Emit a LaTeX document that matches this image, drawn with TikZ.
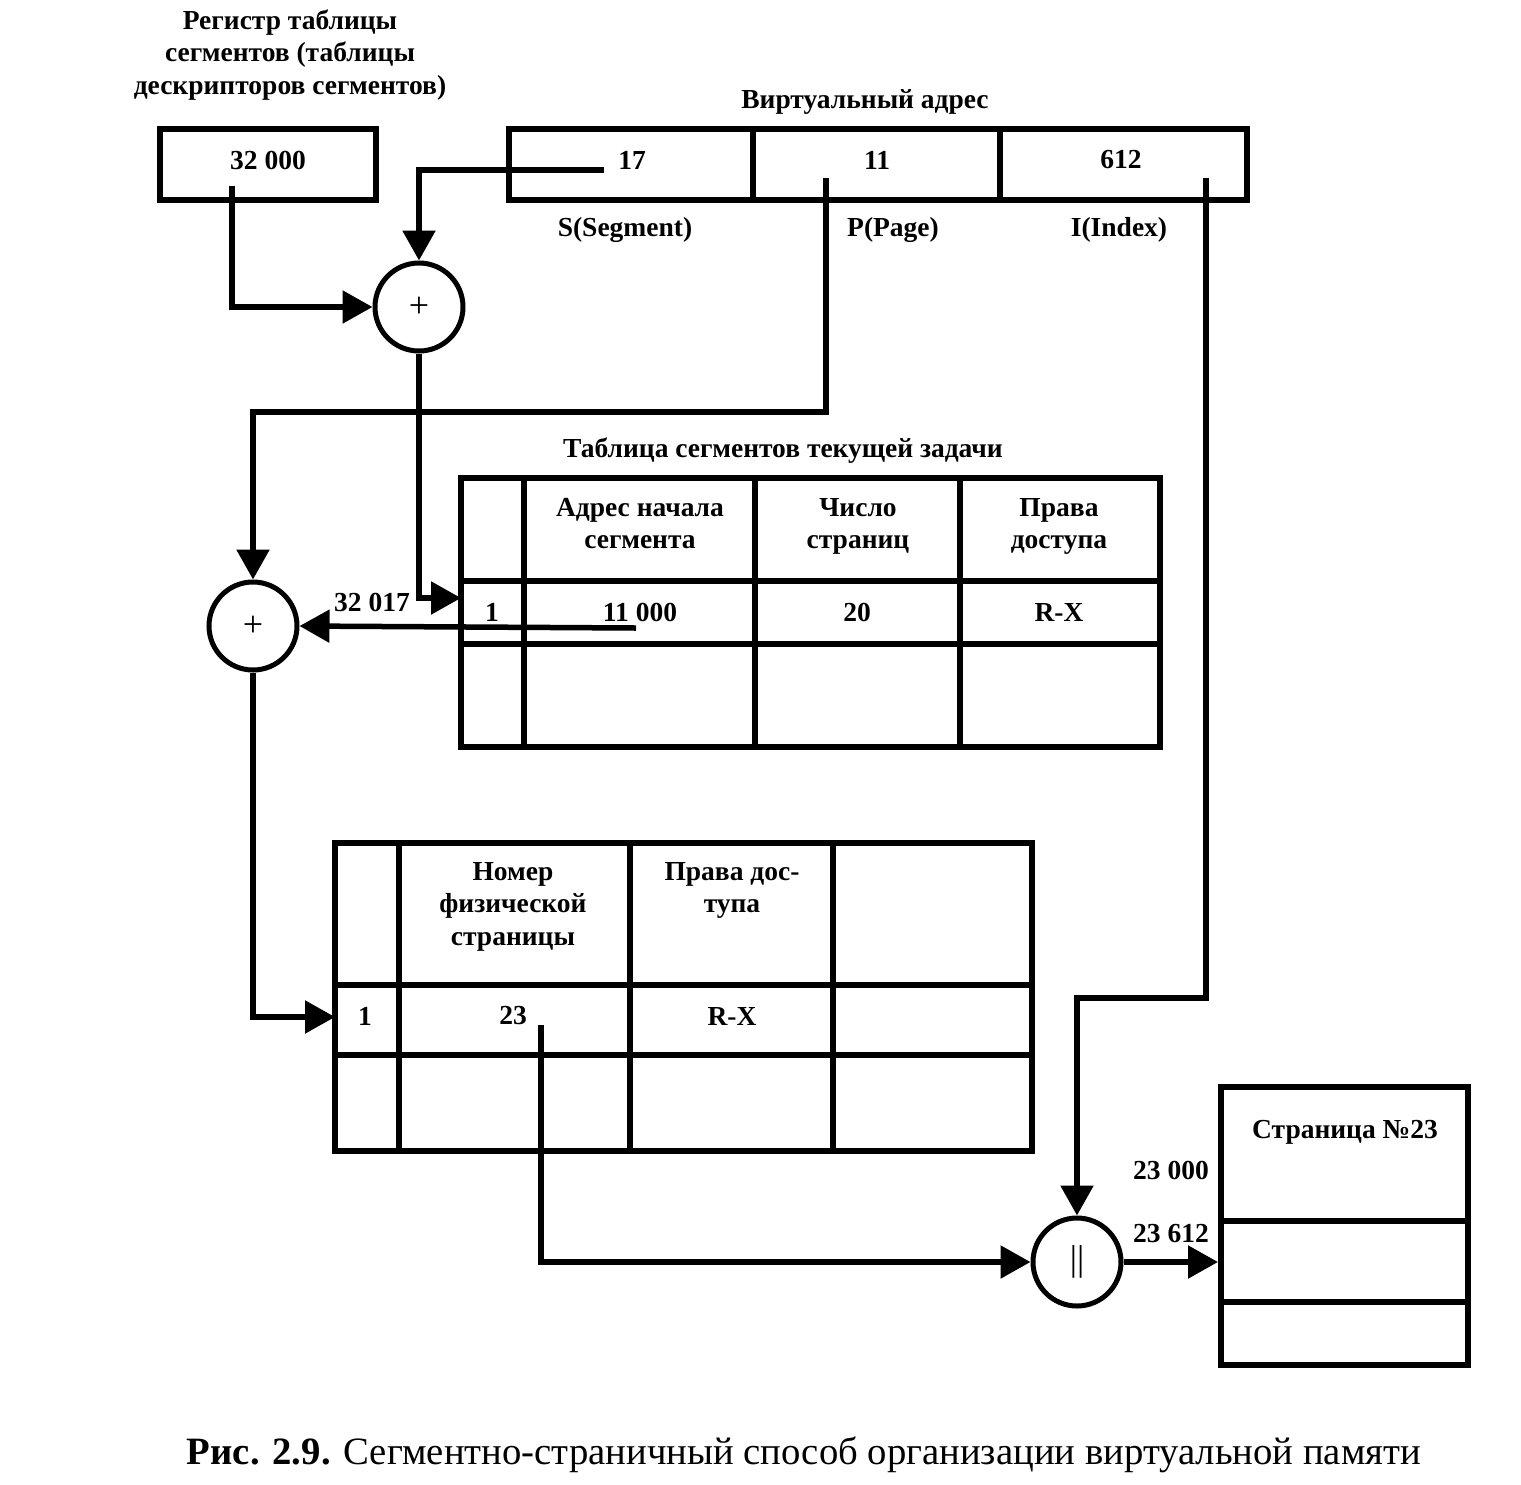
\documentclass[tikz,border=0pt]{standalone}
\usepackage{fontspec}
\setmainfont{Liberation Serif}
\usetikzlibrary{arrows.meta,calc}
\begin{document}
\begin{tikzpicture}[x=1pt,y=-1pt,
  conn/.style={line width=5.5pt,-{Triangle[length=30pt,width=32pt]}},
  frame/.style={draw,line width=6pt,inner sep=0pt},
  grid/.style={line width=6pt},
  txt/.style={font=\fontsize{27.5}{32.5}\selectfont\bfseries,align=center,inner sep=0pt},
  head/.style={txt,anchor=north},
  op/.style={circle,draw,line width=5pt,minimum size=88pt,inner sep=0pt,font=\fontsize{36}{36}\selectfont}]
\useasboundingbox (0,0) rectangle (1521,1484);
\fill[white] (0,0) rectangle (1521,1484);

% register
\node[txt] (regtitle) at (290,55) {Регистр таблицы\\сегментов (таблицы\\дескрипторов сегментов)};
\node[frame,minimum width=216pt,minimum height=71pt] (reg) at (268,164.5) {};
\node[txt] (regval) at (268,160) {32 000};

% virtual address
\node[txt] (vatitle) at (865,102) {Виртуальный адрес};
\node[frame,minimum width=738pt,minimum height=71pt] (va) at (878,164.5) {};
\draw[grid] (753,129) -- (753,200) (1000,129) -- (1000,200);
\node[txt] (vs) at (632,160) {17};
\node[txt] (vp) at (877,160) {11};
\node[txt] (vi) at (1121,160) {612};
\node[txt] (ls) at (625,230) {S(Segment)};
\node[txt] (lp) at (893,230) {P(Page)};
\node[txt] (li) at (1119,230) {I(Index)};

% adders
\node[op] (c1) at (419,307) {+};
\node[op] (c2) at (253,626) {+};
\node[op] (c3) at (1077,1262) {||};

% segment table
\node[txt] (t1title) at (783,451) {Таблица сегментов текущей задачи};
\node[frame,minimum width=699pt,minimum height=269pt] (t1) at (810.5,612.5) {};
\draw[grid] (524,478) -- (524,747) (755,478) -- (755,747) (960,478) -- (960,747)
  (461,581) -- (1160,581) (461,644) -- (1160,644);
\node[head] (h11) at (640,498) {Адрес начала\\сегмента};
\node[head] (h12) at (858,498) {Число\\страниц};
\node[head] (h13) at (1059,498) {Права\\доступа};
\node[txt] (r10) at (492,612) {1};
\node[txt] (r11) at (640,612) {11 000};
\node[txt] (r12) at (857,612) {20};
\node[txt] (r13) at (1059,612) {R-X};
\node[txt,anchor=south] (lab1) at (372,612) {32 017};

% page table
\node[frame,minimum width=697pt,minimum height=308pt] (t2) at (683.5,997) {};
\draw[grid] (399,843) -- (399,1151) (630,843) -- (630,1151) (833,843) -- (833,1151)
  (335,985) -- (1032,985) (335,1055) -- (1032,1055);
\node[head] (h21) at (513,862) {Номер\\физической\\страницы};
\node[head] (h22) at (732,862) {Права дос-\\тупа};
\node[txt] (r20) at (365,1016) {1};
\node[txt] (r21) at (513,1016) {23};
\node[txt] (r22) at (732,1016) {R-X};

% physical page
\node[frame,minimum width=247pt,minimum height=278pt] (pg) at (1344.5,1226) {};
\draw[grid] (1221,1221) -- (1468,1221) (1221,1302) -- (1468,1302);
\node[txt] (pgt) at (1345,1132) {Страница №23};
\node[txt] (a0) at (1171,1170) {23 000};
\node[txt] (a1) at (1171,1234) {23 612};

% connectors
\coordinate (s17) at (604,170);
\coordinate (r0) at (232,186);
\coordinate (t1in) at (461,598);
\coordinate (p11) at (826,178);
\coordinate (pbend) at (253,412);
\coordinate (a11) at (636,628);
\coordinate (t2in) at (335,1017);
\coordinate (i612) at (1206,178);
\coordinate (ibend) at (1077,998);
\coordinate (f23) at (541,1025);

\draw[conn] (s17) -| (c1.north);
\draw[conn] (r0) |- (c1.west);
\draw[conn] (c1.south) |- (t1in);
\draw[conn] (p11) |- (pbend) -- (c2.north);
\draw[conn] (a11) -- (c2.east);
\draw[conn] (c2.south) |- (t2in);
\draw[conn] (i612) |- (ibend) -- (c3.north);
\draw[conn] (f23) |- (c3.west);
\draw[conn] (c3.east) -- (c3.east -| pg.west);

% caption
\node[inner sep=0pt,font=\fontsize{38.7}{40}\selectfont] (cap) at (804,1455) {\textbf{Рис. 2.9.} Сегментно-страничный способ организации виртуальной памяти};
\end{tikzpicture}
\end{document}
